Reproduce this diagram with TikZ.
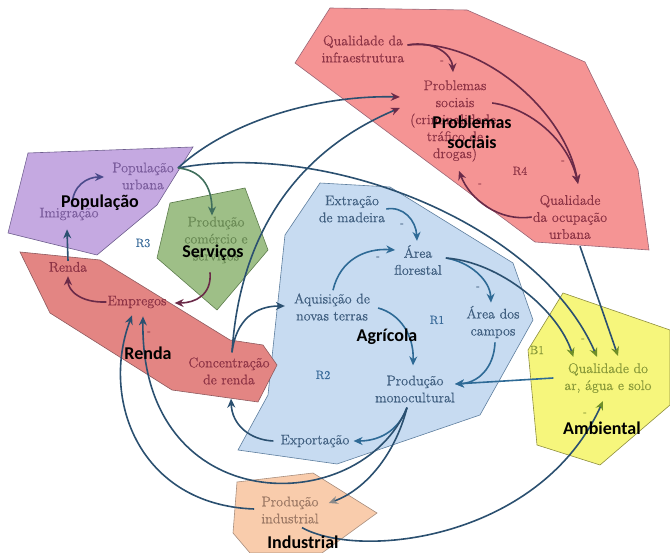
\documentclass[tikz,border=0pt]{standalone}
\usepackage{fontspec}
\newfontfamily\lblfont{Carlito}
\newfontfamily\varfont{Latin Modern Roman}[FakeBold=0.5]
\usetikzlibrary{arrows.meta,calc}

% region fills and outlines
\definecolor{redA}{HTML}{F59494}
\definecolor{redAline}{HTML}{9A6676}
\definecolor{redB}{HTML}{E38583}
\definecolor{redBline}{HTML}{8E5A5E}
\definecolor{purA}{HTML}{C5A9E1}
\definecolor{purAline}{HTML}{6E5E8E}
\definecolor{grnA}{HTML}{9EBF87}
\definecolor{grnAline}{HTML}{5E7E4E}
\definecolor{bluA}{HTML}{C7DBF1}
\definecolor{bluAline}{HTML}{5E7E9E}
\definecolor{yelA}{HTML}{F6F67C}
\definecolor{yelAline}{HTML}{8E8E3E}
\definecolor{pchA}{HTML}{F9CCAC}
\definecolor{pchAline}{HTML}{A88E7E}
% text colours
\definecolor{redT}{HTML}{8E3446}
\definecolor{purT}{HTML}{7C5E9E}
\definecolor{grnT}{HTML}{6A8A55}
\definecolor{bluT}{HTML}{405F80}
\definecolor{yelT}{HTML}{8A9A3A}
\definecolor{pchT}{HTML}{9E7A66}
\definecolor{loopT}{HTML}{3A6B9A}
% connector colours
\definecolor{wireD}{HTML}{2B5070}
\definecolor{wireB}{HTML}{2E6A96}
\definecolor{wireR}{HTML}{6A2A48}
\definecolor{wireG}{HTML}{3F6E5C}
\definecolor{wireP}{HTML}{4A4A8A}
\definecolor{headG}{HTML}{6E8E28}
\definecolor{headY}{HTML}{8A8A8A}

\begin{document}
\begin{tikzpicture}[x=1pt,y=-1pt,
  txt/.style={align=center, inner sep=1pt, font=\varfont\fontsize{14}{17}\selectfont},
  rtxt/.style={txt, text=redT},
  ptxt/.style={txt, text=purT},
  gtxt/.style={txt, text=grnT},
  btxt/.style={txt, text=bluT},
  ytxt/.style={txt, text=yelT},
  ctxt/.style={txt, text=pchT},
  sector/.style={font=\lblfont\bfseries\fontsize{18}{20}\selectfont, text=black, align=center, inner sep=0pt},
  loopname/.style={font=\varfont\fontsize{12}{14}\selectfont, inner sep=0pt},
  sign/.style={font=\varfont\fontsize{11}{12}\selectfont, inner sep=0pt},
  region/.style={line width=0.6pt},
  link/.style={line width=1.6pt, -{Stealth[length=9pt,width=8pt]}},
  blink/.style={link, wireB},
  dlink/.style={link, wireD},
  rlink/.style={link, wireR},
  greenhead/.style={-{Stealth[length=9pt,width=8pt,color=headG]}},
  greyhead/.style={-{Stealth[length=9pt,width=8pt,color=headY]}},
  redhead/.style={-{Stealth[length=9pt,width=8pt,color=wireR]}},
]
\useasboundingbox (0,0) rectangle (670,553);

% ---------- sector regions ----------
\filldraw[region, fill=grnA, draw=grnAline] (170,203) -- (245,188) -- (268,250) -- (217,310) -- (157,258) -- cycle;
\filldraw[region, fill=purA, draw=purAline] (28,153) -- (193,147) -- (157,205) -- (97,255) -- (8,233) -- cycle;
\filldraw[region, fill=redA, draw=redAline] (330,8) -- (467,10) -- (585,62) -- (638,170) -- (649,250) -- (535,242) -- (295,63) -- cycle;
\filldraw[region, fill=bluA, draw=bluAline] (320,183) -- (390,187) -- (513,263) -- (533,320) -- (480,415) -- (337,464) -- (238,450) -- (268,395) -- (285,235) -- cycle;
\filldraw[region, fill=redB, draw=redBline] (20,252) -- (100,260) -- (230,340) -- (263,345) -- (277,365) -- (258,402) -- (172,390) -- (50,313) -- cycle;
\filldraw[region, fill=yelA, draw=yelAline] (563,293) -- (670,330) -- (670,405) -- (600,465) -- (537,445) -- (528,350) -- cycle;
\filldraw[region, fill=pchA, draw=pchAline] (237,482) -- (313,473) -- (377,513) -- (322,553) -- (250,553) -- (233,533) -- cycle;

% ---------- variables ----------
\node[rtxt] (qi) at (363,49) {Qualidade da\\infraestrutura};
\node[rtxt] (ps) at (455,121) {Problemas\\sociais\\(criminalidade,\\tráfico de\\drogas)};
\node[rtxt] (qo) at (570,217) {Qualidade\\da ocupação\\urbana};
\node[ptxt] (pu) at (143,176) {População\\urbana};
\node[ptxt] (im) at (69,214) {Imigração};
\node[gtxt] (sv) at (216,240) {Produção\\comércio e\\serviços};
\node[rtxt] (re) at (68,267) {Renda};
\node[rtxt] (em) at (137,302) {Empregos};
\node[rtxt] (cr) at (229,371) {Concentração\\de renda};
\node[btxt] (ex) at (352,209) {Extração\\de madeira};
\node[btxt] (af) at (418,260) {Área\\florestal};
\node[btxt] (aq) at (332,307) {Aquisição de\\novas terras};
\node[btxt] (ac) at (493,322) {Área dos\\campos};
\node[btxt] (pm) at (415,389) {Produção\\monocultural};
\node[btxt] (xp) at (315,441) {Exportação};
\node[ytxt] (qa) at (608,378) {Qualidade do\\ar, água e solo};
\node[ctxt] (pi) at (290,510) {Produção\\industrial};

% ---------- loop names ----------
\node[loopname, text=loopT] (r3) at (143,243) {R3};
\node[loopname, text=redT] (r4) at (520,171) {R4};
\node[loopname, text=loopT] (r1) at (437,320) {R1};
\node[loopname, text=loopT] (r2) at (323,375) {R2};
\node[loopname, text=yelT] (b1) at (537,350) {B1};

% ---------- polarity signs ----------
\node[sign, text=redT] (s1) at (442,62) {-};
\node[sign, text=redT] (s2) at (563,162) {-};
\node[sign, text=redT] (s3) at (480,185) {-};
\node[sign, text=bluT] (s4) at (402,225) {-};
\node[sign, text=bluT] (s5) at (378,258) {-};
\node[sign, text=bluT] (s6) at (478,288) {-};
\node[sign, text=redT] (s7) at (149,333) {-};
\node[sign, text=yelT] (s8) at (583,340) {-};
\node[sign, text=yelT] (s9) at (585,414) {-};

% ---------- social problems loop ----------
\draw[rlink] ($(qi.east)+(2,-4)$) .. controls (435,40) and (452,55) .. ($(ps.north)+(-2,-7)$);
\draw[rlink] ($(qi.east)+(2,-4)$) .. controls (480,38) and (565,110) .. ($(qo.north)+(8,-10)$);
\draw[rlink] ($(ps.east)+(-9,-18)$) .. controls (530,108) and (568,140) .. ($(qo.north)+(8,-10)$);
\draw[rlink] (qo.west) .. controls (500,222) and (470,200) .. ($(ps.south)+(4,8)$);

% ---------- agricultural sector ----------
\draw[blink] (ex.east) .. controls (403,206) and (416,220) .. ($(af.north)+(-1,-3)$);
\draw[blink] ($(aq.north)+(1,-2)$) .. controls (340,260) and (365,248) .. ($(af.west)+(2,-10)$);
\draw[blink] ($(aq.east)+(7,1)$) .. controls (400,314) and (414,335) .. ($(pm.north)+(-2,-9)$);
\draw[blink] ($(af.east)+(3,-2)$) .. controls (470,262) and (490,280) .. ($(ac.north)+(-2,-2)$);
\draw[blink] ($(ac.south)+(2,3)$) .. controls (494,368) and (478,383) .. ($(pm.east)+(-1,-5)$);
\draw[blink] ($(qa.west)+(-10,0)$) -- ($(pm.east)+(-1,-5)$);
\draw[blink] ($(pm.south)+(-8,4)$) .. controls (398,432) and (378,441) .. ($(xp.east)+(3,0)$);
\draw[dlink] ($(xp.west)+(-6,0)$) .. controls (250,440) and (232,425) .. ($(cr.south)+(2,13)$);
\draw[dlink] ($(cr.north)+(3,-4)$) .. controls (236,320) and (255,306) .. ($(aq.west)+(-8,-1)$);

% ---------- environmental impacts ----------
\draw[dlink, greenhead] ($(af.east)+(3,-2)$) .. controls (500,262) and (558,310) .. ($(qa.north west)+(10,-5)$);
\draw[dlink, greenhead] ($(pu.east)+(3,-8)$) .. controls (330,140) and (540,225) .. ($(qa.north)+(-11,-5)$);
\draw[dlink, greenhead] ($(qo.south)+(10,6)$) -- ($(qa.north)+(10,-6)$);
\draw[dlink, greenhead] ($(pi.south)+(12,3)$) .. controls (360,560) and (540,540) .. ($(qa.south)+(-5,7)$);

% ---------- industry and jobs ----------
\draw[dlink, greyhead] ($(pm.south)+(-8,4)$) .. controls (395,455) and (365,490) .. ($(pi.east)+(9,-7)$);
\draw[dlink] ($(pm.south)+(-8,4)$) .. controls (360,520) and (140,520) .. ($(em.south)+(6,7)$);
\draw[dlink] ($(pi.west)+(-6,-1)$) .. controls (140,505) and (100,400) .. ($(em.south)+(-5,6)$);

% ---------- urban population ----------
\draw[dlink, redhead] ($(cr.north)+(3,-4)$) .. controls (240,230) and (300,150) .. ($(ps.west)+(-9,-13)$);
\draw[dlink, redhead] ($(pu.east)+(3,-8)$) .. controls (230,120) and (320,95) .. ($(ps.west)+(-9,-24)$);
\draw[link, wireG] ($(pu.east)+(3,-8)$) .. controls (200,170) and (212,185) .. ($(sv.north)+(-4,0)$);
\draw[rlink] ($(sv.south)+(-6,8)$) .. controls (212,295) and (195,303) .. ($(em.east)+(7,1)$);
\draw[link, wireP] ($(im.north)+(3,0)$) .. controls (72,185) and (88,177) .. ($(pu.west)+(-7,1)$);
\draw[link, wireD] (re.north) -- ($(im.south)+(-2,8)$);
\draw[rlink] (em.west) .. controls (80,303) and (68,290) .. ($(re.south)+(0,3)$);

% ---------- sector labels ----------
\node[sector] (lps) at (472,132) {Problemas\\sociais};
\node[sector] (lpo) at (100,203) {População};
\node[sector] (lsv) at (213,253) {Serviços};
\node[sector] (lre) at (148,353) {Renda};
\node[sector] (lag) at (387,337) {Agrícola};
\node[sector] (lam) at (602,428) {Ambiental};
\node[sector] (lin) at (303,542) {Industrial};
\end{tikzpicture}
\end{document}
